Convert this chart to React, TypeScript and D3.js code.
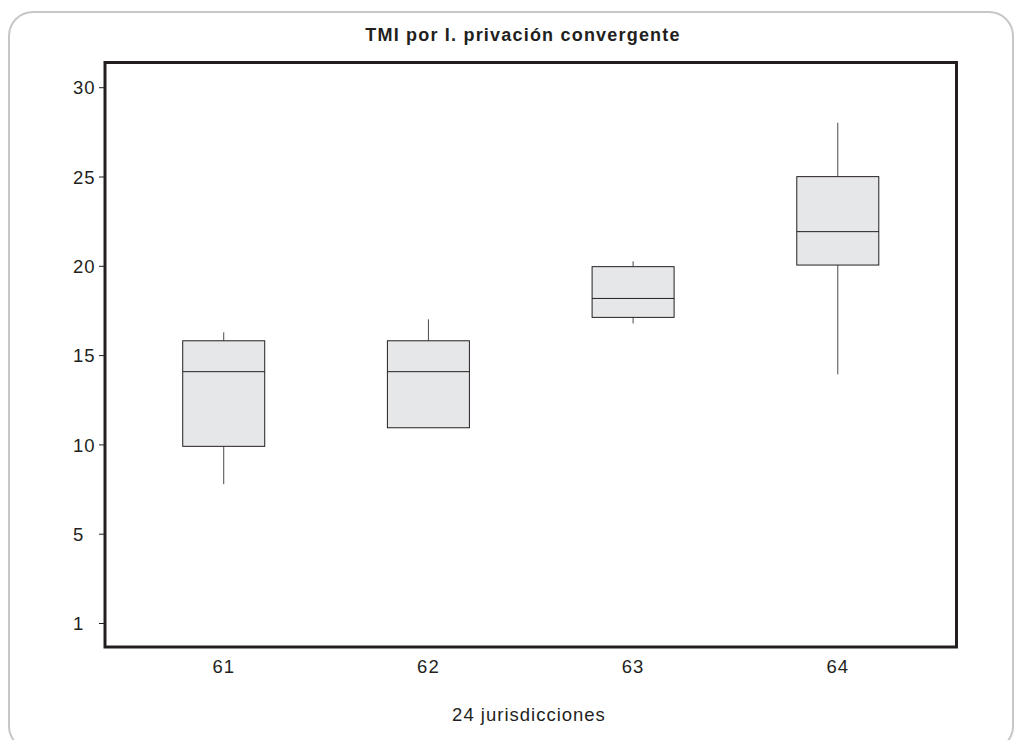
import React from 'react';
import * as d3 from 'd3';

const categories = ['61', '62', '63', '64'];
const whiskerLow = [7.8, 10.96, 16.8, 13.95];
const q1 = [9.92, 10.96, 17.14, 20.07];
const median = [14.1, 14.1, 18.2, 21.94];
const q3 = [15.83, 15.83, 19.98, 25.02];
const whiskerHigh = [16.3, 17.03, 20.28, 28.04];
const yTickValues = [0, 5, 10, 15, 20, 25, 30];
const yTickLabels = ['1', '5', '10', '15', '20', '25', '30'];

const title = 'TMI por I. privación convergente';
const xTitle = '24 jurisdicciones';

const W = 1015;
const H = 740;
const plot = { left: 105, top: 62.5, right: 956.5, bottom: 647 };
const font = '"Liberation Sans", Arial, sans-serif';
const ink = '#231f20';

const App: React.FC = () => {
  const x = d3.scalePoint<string>()
    .domain(categories)
    .range([plot.left, plot.right])
    .padding(0.58);

  const y = d3.scaleLinear()
    .domain([0, 30])
    .range([623.5, 87.7]);

  const boxW = 82;

  const boxes = categories.map((c, i) => ({
    c,
    lo: whiskerLow[i],
    q1: q1[i],
    med: median[i],
    q3: q3[i],
    hi: whiskerHigh[i],
  }));

  return (
    <svg width={W} height={H} style={{ position: 'absolute', left: 0, top: 0, background: '#fff' }}>
      {/* outer frame, cut off at the bottom */}
      <rect x={9} y={12} width={1004} height={738} rx={24} ry={24}
        fill="#fff" stroke="#c6c7c9" strokeWidth={2} />

      <text x={523} y={41} textAnchor="middle" fontFamily={font} fontWeight="bold"
        fontSize={18} letterSpacing={1.2} fill={ink}>{title}</text>

      {/* boxes */}
      {boxes.map(b => {
        const cx = x(b.c)!;
        return (
          <g key={b.c}>
            {b.hi > b.q3 && (
              <line x1={cx} x2={cx} y1={y(b.hi)} y2={y(b.q3)} stroke="#4a4a4c" strokeWidth={1} />
            )}
            {b.lo < b.q1 && (
              <line x1={cx} x2={cx} y1={y(b.q1)} y2={y(b.lo)} stroke="#4a4a4c" strokeWidth={1} />
            )}
            <rect x={cx - boxW / 2} y={y(b.q3)} width={boxW} height={y(b.q1) - y(b.q3)}
              fill="#e6e7e8" stroke={ink} strokeWidth={1} />
            <line x1={cx - boxW / 2} x2={cx + boxW / 2} y1={y(b.med)} y2={y(b.med)}
              stroke={ink} strokeWidth={1} />
          </g>
        );
      })}

      {/* plot frame */}
      <rect x={plot.left} y={plot.top} width={plot.right - plot.left} height={plot.bottom - plot.top}
        fill="none" stroke={ink} strokeWidth={3} />

      {/* y ticks */}
      {yTickValues.map((v, i) => (
        <g key={v}>
          <line x1={plot.left - 6} x2={plot.left} y1={y(v)} y2={y(v)} stroke={ink} strokeWidth={1} />
          <text x={73} y={y(v)} dy="0.36em" fontFamily={font} fontSize={18.5}
            letterSpacing={1} fill={ink}>{yTickLabels[i]}</text>
        </g>
      ))}

      {/* x labels */}
      {categories.map(c => (
        <text key={c} x={x(c)!} y={673} textAnchor="middle" fontFamily={font} fontSize={18.5}
          letterSpacing={1} fill={ink}>{c}</text>
      ))}

      <text x={529} y={721} textAnchor="middle" fontFamily={font} fontSize={18.5}
        letterSpacing={1} fill={ink}>{xTitle}</text>
    </svg>
  );
};

export default App;
